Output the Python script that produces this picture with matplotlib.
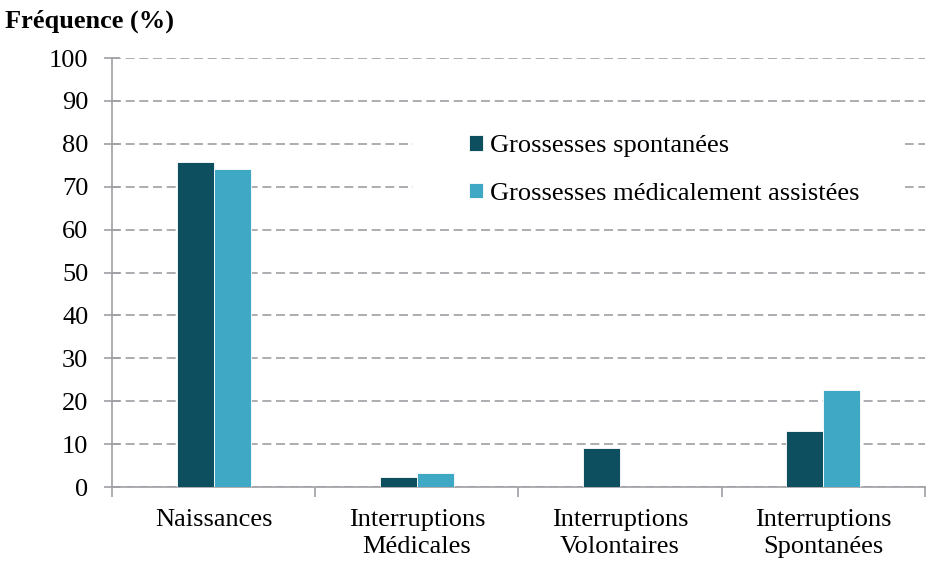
import matplotlib.pyplot as plt
from matplotlib.patches import Rectangle
import numpy as np

plt.rcParams['font.family'] = ['Liberation Serif', 'DejaVu Serif']

categories = ['Naissances', 'Interruptions\nMédicales',
              'Interruptions\nVolontaires', 'Interruptions\nSpontanées']
spontanees = [75.8, 2.3, 9.0, 13.1]
assistees = [74.2, 3.3, 0.0, 22.5]
series_names = ['Grossesses spontanées', 'Grossesses médicalement assistées']

dark = '#0d4f5f'
light = '#3fa9c5'
grey = '#a0a0a4'
fs = 19

fig = plt.figure(figsize=(9.29, 5.63), dpi=100)
ax = fig.add_axes([112 / 929, 76 / 563, 813 / 929, 429 / 563])

x = np.arange(len(categories))
w = 0.182
ax.bar(x - w / 2, spontanees, w, color=dark, edgecolor='white', linewidth=0.6,
       label=series_names[0], zorder=3)
ax.bar(x + w / 2, assistees, w, color=light, edgecolor='white', linewidth=0.6,
       label=series_names[1], zorder=3)

ax.set_xlim(-0.5, len(categories) - 0.5)
ax.set_ylim(0, 100)
ax.set_yticks(np.arange(0, 101, 10))
ax.set_xticks(x)
ax.set_xticklabels(categories, fontsize=fs, linespacing=1.3)
ax.set_xticks(np.arange(-0.5, len(categories), 1), minor=True)
ax.tick_params(axis='x', which='major', length=0, pad=16)
ax.tick_params(axis='x', which='minor', length=7, color=grey, width=1.2)
ax.tick_params(axis='y', labelsize=fs, direction='inout', length=12,
               color=grey, width=1.2, pad=11)

ax.yaxis.grid(True, linestyle=(0, (5.4, 2.8)), color=grey, linewidth=1.2,
              zorder=0)
for side in ['top', 'right']:
    ax.spines[side].set_visible(False)
for side in ['left', 'bottom']:
    ax.spines[side].set_color(grey)
    ax.spines[side].set_linewidth(1.2)

# white background behind the legend, hiding the grid there
ax.add_patch(Rectangle((413 / 929, 1 - 212 / 563), 492 / 929, 94 / 563,
                       transform=fig.transFigure, facecolor='white',
                       edgecolor='none', zorder=4))

leg = ax.legend(loc='center left', bbox_to_anchor=(0.439, 0.739), fontsize=fs,
                frameon=False, handlelength=0.53, handleheight=0.53,
                handletextpad=0.27, labelspacing=0.95, borderpad=0,
                borderaxespad=0)
leg.set_zorder(5)

fig.text(5 / 929, 1 - 21 / 563, 'Fréquence (%)', fontsize=fs, fontweight='bold',
         va='center', ha='left')

fig.savefig('out.png', dpi=100)
